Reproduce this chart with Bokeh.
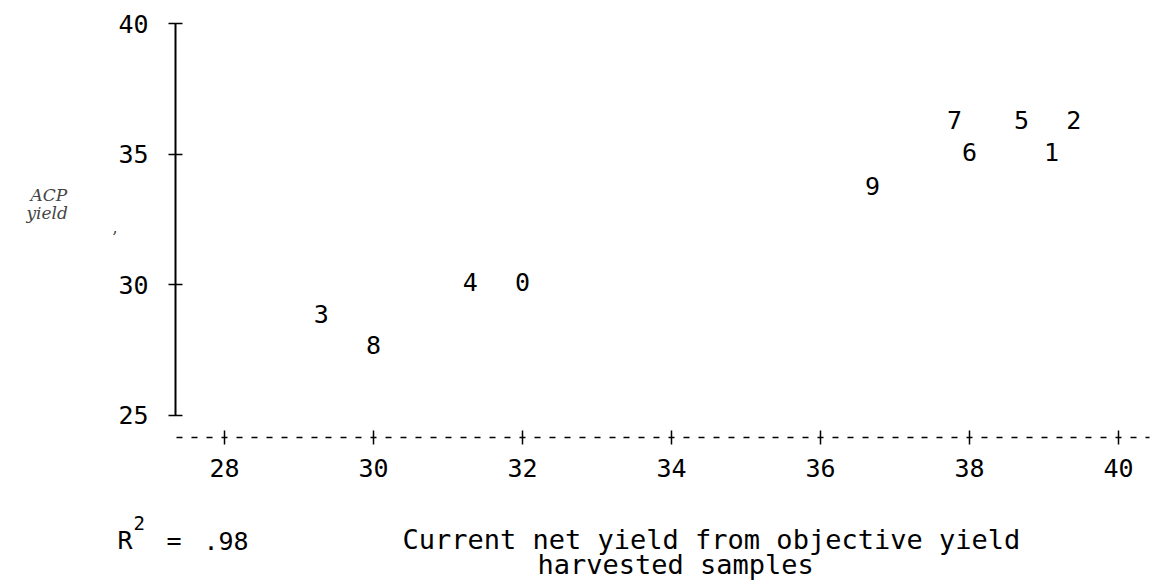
from bokeh.plotting import figure
from bokeh.models import Range1d, LinearAxis, FixedTicker, Label, ColumnDataSource
from bokeh.embed import file_html
from bokeh.resources import INLINE
from bokeh.core.properties import value

# ---- data ----
point_labels = ["0", "1", "2", "3", "4", "5", "6", "7", "8", "9"]
current_net_yield = [32.0, 39.1, 39.4, 29.3, 31.3, 38.7, 38.0, 37.8, 30.0, 36.7]
acp_yield = [30.1, 35.1, 36.3, 28.9, 30.1, 36.3, 35.1, 36.3, 27.7, 33.8]
x_ticks = [28, 30, 32, 34, 36, 38, 40]
y_ticks = [25, 30, 35, 40]
r_squared_text = ".98"
x_title_1 = "Current net yield from objective yield"
x_title_2 = "harvested samples"
y_title_1 = "ACP"
y_title_2 = "yield"

MONO = "DejaVu Sans Mono"
FS = "25px"
TITLE_FS = "27px"
HAND = "DejaVu Serif"

W, H = 1151, 580
PX_X = 74.5      # pixels per x unit
PX_Y = 26.13     # pixels per y unit
X0 = 28 - 224 / PX_X
X1 = X0 + W / PX_X
Y1 = 40 + 23 / PX_Y
Y0 = Y1 - H / PX_Y


def dx(px):
    return X0 + px / PX_X


def dy(py):
    return Y1 - py / PX_Y


p = figure(width=W, height=H, output_backend="svg", toolbar_location=None,
           x_range=Range1d(X0, X1), y_range=Range1d(Y0, Y1),
           x_axis_location=None, y_axis_location=None,
           min_border_left=0, min_border_right=0, min_border_top=0,
           min_border_bottom=0)
p.grid.visible = False
p.outline_line_color = None
p.background_fill_color = "white"
p.border_fill_color = "white"

X_AXIS_Y = dy(437)
Y_AXIS_X = dx(175)

xaxis = LinearAxis(
    ticker=FixedTicker(ticks=x_ticks),
    fixed_location=X_AXIS_Y,
    bounds=(dx(172), dx(1149)),
    axis_line_color="black", axis_line_width=1.5,
    axis_line_dash="6 9 6 9 6 9 6 9 6 9 6 9 6 9 6 9 6 9 6 8",
    axis_line_dash_offset=145,
    major_tick_in=7, major_tick_out=7, major_tick_line_width=1.5,
    major_tick_line_color="black",
    minor_tick_line_color=None,
    major_label_text_font=MONO, major_label_text_font_size=FS,
    major_label_text_color="black", major_label_standoff=14,
)
p.add_layout(xaxis, "below")

yaxis = LinearAxis(
    ticker=FixedTicker(ticks=y_ticks), bounds=(25, 40),
    fixed_location=Y_AXIS_X,
    axis_line_color="black", axis_line_width=2,
    major_tick_in=7, major_tick_out=7, major_tick_line_width=1.5,
    major_tick_line_color="black",
    minor_tick_line_color=None,
    major_label_text_font=MONO, major_label_text_font_size=FS,
    major_label_text_color="black", major_label_standoff=20,
)
p.add_layout(yaxis, "left")

src = ColumnDataSource(dict(x=current_net_yield, y=acp_yield, t=point_labels))
p.text(x="x", y="y", text="t", source=src, text_font=value(MONO),
       text_font_size=FS, text_align="center", text_baseline="middle",
       text_color="black")


def lab(txt, px, py, size=FS, font=MONO, style="normal", color="black"):
    p.add_layout(Label(x=dx(px), y=dy(py), text=txt, text_font=font,
                       text_font_size=size, text_font_style=style,
                       text_color=color, text_align="left",
                       text_baseline="middle"))


lab(x_title_1, 402, 539, size=TITLE_FS)
lab(x_title_2, 537, 564, size=TITLE_FS)
lab("R", 117, 540)
lab("2", 133, 522, size="19px")
lab("=", 166, 540)
lab(r_squared_text, 203, 540)
lab(y_title_1, 30, 194, size="17px", font=HAND, style="italic", color="#444444")
lab(y_title_2, 26, 212, size="17px", font=HAND, style="italic", color="#444444")
lab(",", 112, 226, size="16px", font=HAND, color="#444444")

open("out.html", "w").write(file_html(p, INLINE))
